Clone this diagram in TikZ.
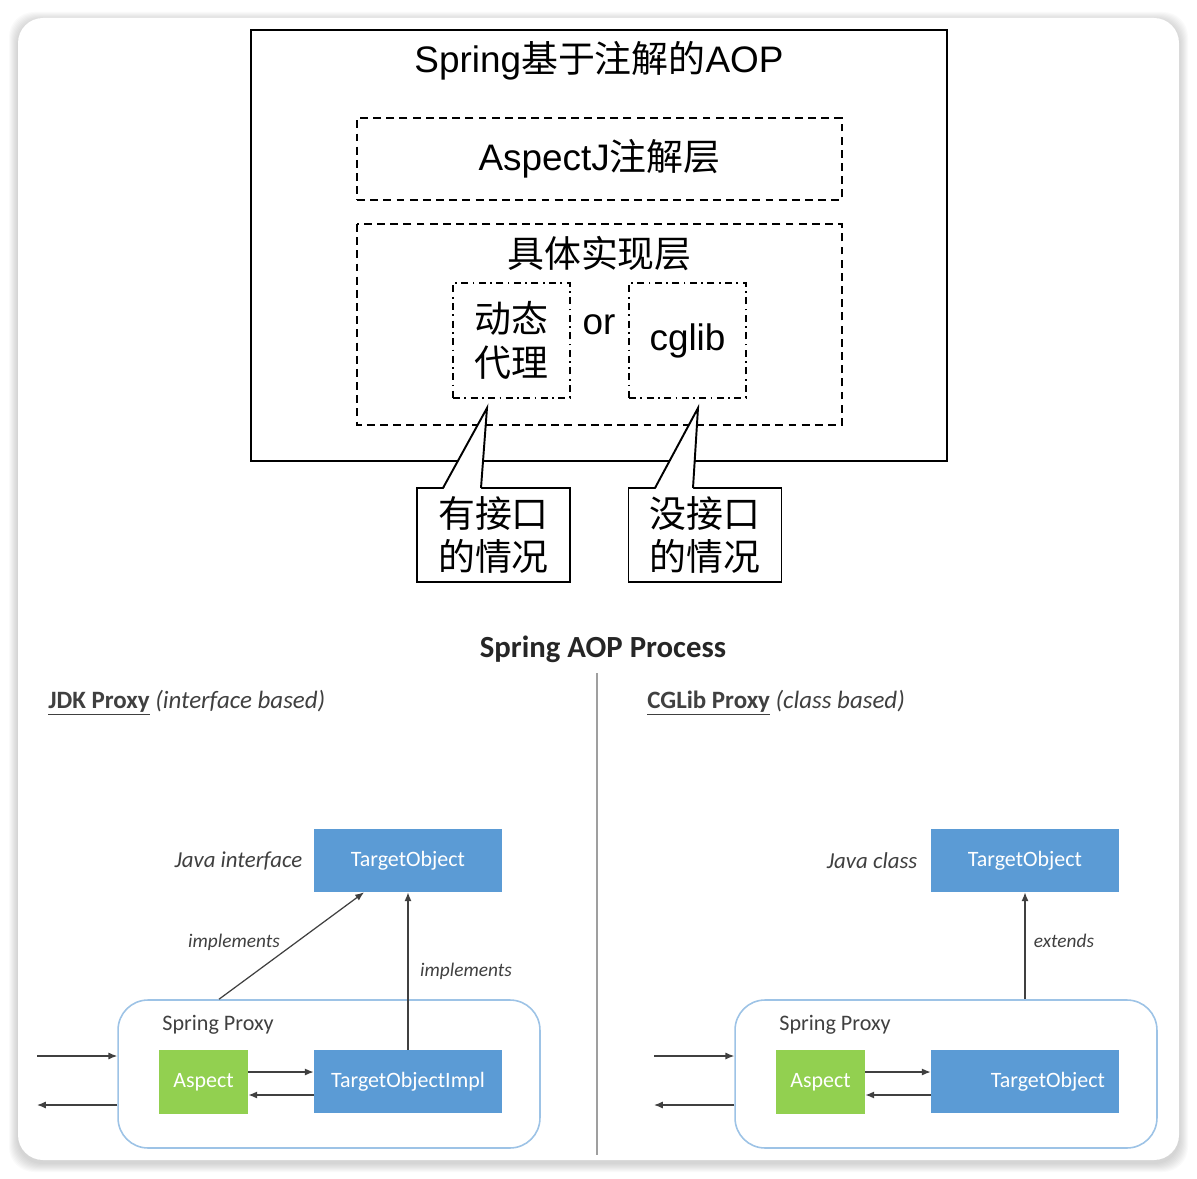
\documentclass[tikz,border=0pt]{standalone}
\usepackage{fontspec}
\setmainfont{Liberation Sans}
\newfontfamily\cjkfont{Noto Sans CJK SC}
\newfontfamily\calfont{Carlito}
\usetikzlibrary{positioning,arrows.meta}
\definecolor{boxblue}{HTML}{5B9BD5}
\definecolor{aspgreen}{HTML}{92D050}
\definecolor{proxyline}{HTML}{9DC3E6}
\definecolor{txtgray}{HTML}{404040}
\tikzset{
  bigtxt/.style={font=\fontsize{21}{25}\selectfont, align=center, inner sep=0pt},
  cjktxt/.style={bigtxt, font=\cjkfont\fontsize{21}{25}\selectfont},
  dashbox/.style={draw, line width=1.1pt, dash pattern=on 4.5pt off 3pt},
  dotbox/.style={draw, line width=1.1pt, dash pattern=on 4pt off 2.5pt on 1pt off 2.5pt},
  calloutbox/.style={cjktxt, draw, fill=white, line width=1.1pt, minimum width=3.06cm, minimum height=1.88cm},
  bluebox/.style={fill=boxblue, text=white, minimum width=3.76cm, minimum height=1.26cm, inner sep=0pt, font=\calfont\fontsize{12.5}{15}\selectfont},
  aspectbox/.style={fill=aspgreen, text=white, minimum width=1.78cm, minimum height=1.28cm, inner sep=0pt, font=\calfont\fontsize{12.5}{15}\selectfont},
  proxybox/.style={draw=proxyline, line width=0.9pt, rounded corners=0.6cm, minimum width=8.44cm, minimum height=2.96cm},
  lbl/.style={text=txtgray, inner sep=0pt, font=\calfont\itshape\fontsize{11}{13}\selectfont},
  javalbl/.style={text=txtgray, inner sep=0pt, font=\calfont\itshape\fontsize{13}{15}\selectfont},
  plainlbl/.style={text=txtgray, inner sep=0pt, anchor=west, font=\calfont\fontsize{12.6}{15}\selectfont},
  headlbl/.style={text=txtgray, inner sep=0pt, anchor=west, font=\calfont\fontsize{14.2}{17}\selectfont},
  arr/.style={-{Latex[length=5pt,width=4pt]}, txtgray, line width=0.7pt},
}
\begin{document}
\begin{tikzpicture}[x=0.02cm, y=-0.02cm]
  \useasboundingbox (0,0) rectangle (1197,1179);
  % card with soft shadow
  \foreach \d in {1,...,9}
    \fill[black, opacity=0.02, rounded corners=0.5cm] (18-\d,18-\d+3) rectangle (1179+\d,1160+\d+3);
  \fill[white, rounded corners=0.5cm] (18,18) rectangle (1179,1160);

  % upper part
  \draw[line width=1.1pt] (251,30) rectangle (947,461);
  \node[bigtxt] (title) at (599,61) {Spring{\cjkfont 基于注解的}AOP};
  \node[bigtxt, dashbox, minimum width=9.7cm, minimum height=1.64cm] (aspj) at (599.5,159) {AspectJ{\cjkfont 注解层}};
  \draw[dashbox] (357,224) rectangle (842,425);
  \node[cjktxt] (layer) at (599.5,254) {具体实现层};
  \node[cjktxt, dotbox, minimum width=2.34cm, minimum height=2.3cm] (dyn) at (511.5,340.5) {动态\\代理};
  \node[bigtxt] (or) at (599,325) {or};
  \node[bigtxt, dotbox, minimum width=2.34cm, minimum height=2.3cm] (cglib) at (687.5,340.5) {cglib};

  \node[calloutbox] (haveif) at (493.5,535) {有接口\\的情况};
  \node[calloutbox] (noif) at (705,535) {没接口\\的情况};
  \coordinate (tipA) at (487,408);
  \coordinate (bA1) at (443,488);
  \coordinate (bA2) at (481,488);
  \coordinate (tipB) at (698,408);
  \coordinate (bB1) at (655,488);
  \coordinate (bB2) at (693,488);
  \fill[white] ([yshift=-1.2pt]bA1) -- (tipA) -- ([yshift=-1.2pt]bA2) -- cycle;
  \fill[white] ([yshift=-1.2pt]bB1) -- (tipB) -- ([yshift=-1.2pt]bB2) -- cycle;
  \draw[line width=1.1pt] (bA1) -- (tipA) -- (bA2);
  \draw[line width=1.1pt] (bB1) -- (tipB) -- (bB2);

  % lower part
  \node[text=black!85, font=\calfont\bfseries\fontsize{17.5}{20}\selectfont] (proc) at (603,649) {Spring AOP Process};
  \draw[gray!75, line width=0.7pt] (597,673) -- (597,1155);
  \node[headlbl] (jdk) at (48,703) {\textbf{\underline{JDK Proxy}} \textit{(interface based)}};
  \node[headlbl] (cgl) at (647,703) {\textbf{\underline{CGLib Proxy}} \textit{(class based)}};

  % JDK proxy
  \node[bluebox] (tgtL) at (408,860.5) {TargetObject};
  \node[javalbl, left=0.22cm of tgtL] (javaL) {Java interface};
  \node[proxybox] (proxyL) at (329,1074) {};
  \node[plainlbl] (springL) at (162,1025) {Spring Proxy};
  \node[aspectbox] (aspL) at (203.5,1082) {Aspect};
  \node[bluebox] (implL) at (408,1081.5) {TargetObjectImpl};
  \coordinate (inL) at (37,1056);
  \coordinate (outL) at (37,1105);
  \draw[arr] (inL) -- (inL -| proxyL.west);
  \draw[arr] (outL -| proxyL.west) -- (outL);
  \draw[arr] ([yshift=0.2cm]aspL.east) -- ([yshift=0.2cm]aspL.east -| implL.west);
  \draw[arr] ([yshift=-0.27cm]implL.west) -- ([yshift=-0.27cm]implL.west -| aspL.east);
  \draw[arr] ([xshift=-2.2cm]proxyL.north) -- ([xshift=-0.88cm]tgtL.south);
  \draw[arr] (implL.north) -- (tgtL.south);
  \node[lbl] (implA) at (234,942) {implements};
  \node[lbl] (implB) at (466,971) {implements};

  % CGLib proxy
  \node[bluebox] (tgtR) at (1025,860.5) {TargetObject};
  \node[javalbl, left=0.26cm of tgtR] (javaR) {Java class};
  \node[proxybox] (proxyR) at (946,1074) {};
  \node[plainlbl] (springR) at (779,1025) {Spring Proxy};
  \node[aspectbox] (aspR) at (820.5,1082) {Aspect};
  \node[bluebox] (objR) at (1025,1081.5) {};
  \node[anchor=east, text=white, inner sep=0pt, font=\calfont\fontsize{12.5}{15}\selectfont] (objRtxt) at ([xshift=-0.28cm]objR.east) {TargetObject};
  \coordinate (inR) at (654,1056);
  \coordinate (outR) at (654,1105);
  \draw[arr] (inR) -- (inR -| proxyR.west);
  \draw[arr] (outR -| proxyR.west) -- (outR);
  \draw[arr] ([yshift=0.2cm]aspR.east) -- ([yshift=0.2cm]aspR.east -| objR.west);
  \draw[arr] ([yshift=-0.27cm]objR.west) -- ([yshift=-0.27cm]objR.west -| aspR.east);
  \draw[arr] (proxyR.north -| tgtR.south) -- (tgtR.south);
  \node[lbl] (ext) at (1064,941) {extends};
\end{tikzpicture}
\end{document}
